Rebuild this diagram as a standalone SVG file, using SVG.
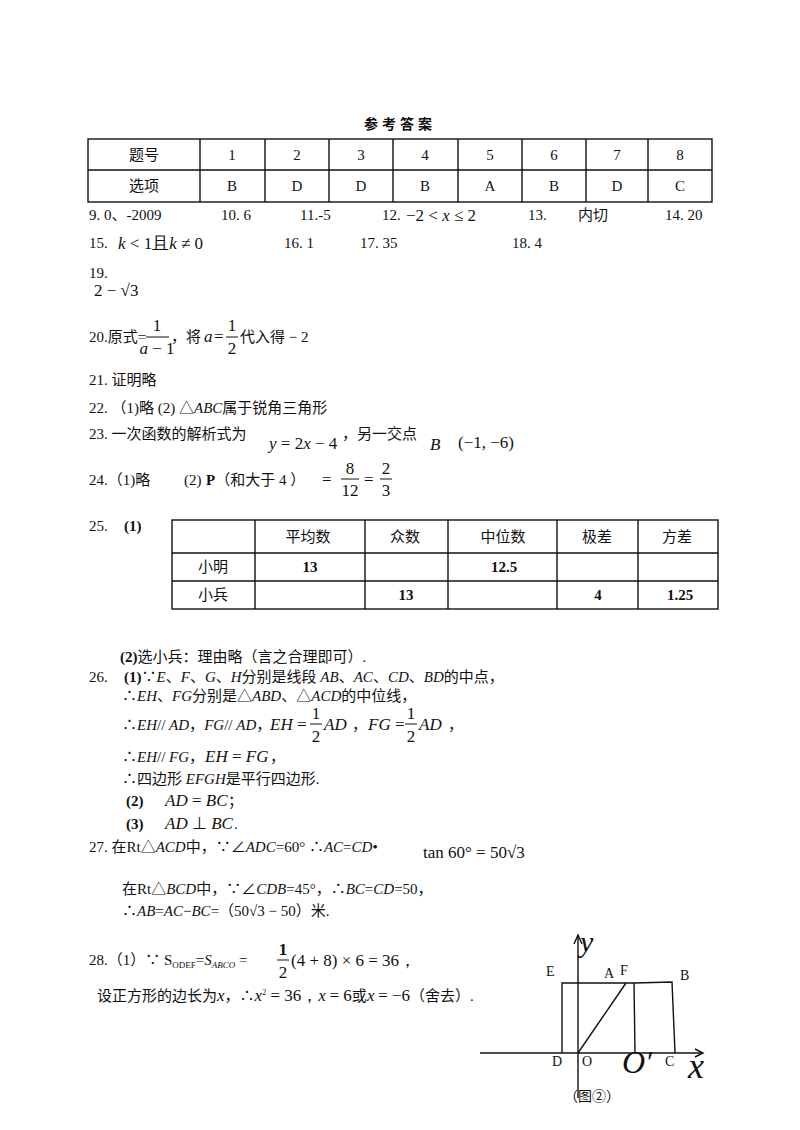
<svg xmlns="http://www.w3.org/2000/svg" width="800" height="1130" viewBox="0 0 800 1130">
<style>
text{font-family:"Liberation Serif","Noto Sans CJK SC",serif;font-size:15px;fill:#111}
.m{font-family:"Liberation Serif",serif;font-size:17px}
.i{font-style:italic}
.b{font-weight:bold}
.c{text-anchor:middle}
line,rect,polyline{stroke:#111;stroke-width:1.4;fill:none}
</style>
<rect width="800" height="1130" fill="#fff" style="stroke:none"/>
<text x="400" y="129" class="c b" style="font-size:14px;letter-spacing:4px">参考答案</text>
<g id="table1">
<rect x="88" y="139" width="624" height="63"/>
<line x1="88" y1="170" x2="712" y2="170"/>
<line x1="200" y1="139" x2="200" y2="202"/><line x1="265" y1="139" x2="265" y2="202"/><line x1="329" y1="139" x2="329" y2="202"/><line x1="393" y1="139" x2="393" y2="202"/><line x1="458" y1="139" x2="458" y2="202"/><line x1="522" y1="139" x2="522" y2="202"/><line x1="586" y1="139" x2="586" y2="202"/><line x1="648" y1="139" x2="648" y2="202"/>
<text x="144" y="160" class="c">题号</text><text x="232" y="160" class="c">1</text><text x="297" y="160" class="c">2</text><text x="361" y="160" class="c">3</text><text x="425" y="160" class="c">4</text><text x="490" y="160" class="c">5</text><text x="554" y="160" class="c">6</text><text x="617" y="160" class="c">7</text><text x="680" y="160" class="c">8</text>
<text x="144" y="191" class="c">选项</text><text x="232" y="191" class="c">B</text><text x="297" y="191" class="c">D</text><text x="361" y="191" class="c">D</text><text x="425" y="191" class="c">B</text><text x="490" y="191" class="c">A</text><text x="554" y="191" class="c">B</text><text x="617" y="191" class="c">D</text><text x="680" y="191" class="c">C</text>
</g>
<text x="89" y="220">9. 0、-2009</text><text x="221" y="220">10. 6</text><text x="300" y="220">11.-5</text><text x="382" y="220">12.</text><text x="406" y="221" class="m">−2 &lt; <tspan class="i">x</tspan> ≤ 2</text><text x="528" y="220">13.</text><text x="578" y="220">内切</text><text x="665" y="220">14. 20</text>
<text x="89" y="248">15.</text><text x="118" y="249" class="m"><tspan class="i">k</tspan> &lt; 1且<tspan class="i">k</tspan> ≠ 0</text><text x="284" y="248">16. 1</text><text x="360" y="248">17. 35</text><text x="512" y="248">18. 4</text>
<text x="89" y="278">19.</text><text x="94" y="296" class="m">2 − √3</text>
<text x="89" y="342">20.原式=</text><text x="157" y="331" class="m c">1</text><line x1="146" y1="337" x2="169" y2="337" style="stroke-width:1"/><text x="157" y="354" class="m c"><tspan class="i">a</tspan> − 1</text><text x="171" y="342">，将</text><text x="204" y="342" class="m i">a</text><text x="214" y="342" class="m">=</text><text x="232" y="331" class="m c">1</text><line x1="226" y1="337" x2="238" y2="337" style="stroke-width:1"/><text x="232" y="354" class="m c">2</text><text x="240" y="342">代入得 − 2</text>
<text x="89" y="385">21. 证明略</text>
<text x="89" y="413">22. （1)略 (2) △<tspan class="i">ABC</tspan>属于锐角三角形</text>
<text x="89" y="439">23. 一次函数的解析式为</text><text x="269" y="449" class="m"><tspan class="i">y</tspan> = 2<tspan class="i">x</tspan> − 4</text><text x="342" y="439">，另一交点</text><text x="430" y="450" class="m i">B</text><text x="458" y="448" class="m">(−1, −6)</text>
<text x="89" y="485">24.（1)略</text><text x="184" y="485">(2)</text><text x="206" y="485"><tspan class="b">P</tspan>（和大于 4 ）</text><text x="322" y="485" class="m">=</text><text x="350" y="474" class="m c">8</text><line x1="341" y1="479" x2="359" y2="479" style="stroke-width:1"/><text x="350" y="496" class="m c">12</text><text x="364" y="485" class="m">=</text><text x="386" y="474" class="m c">2</text><line x1="380" y1="479" x2="392" y2="479" style="stroke-width:1"/><text x="386" y="496" class="m c">3</text>
<text x="89" y="531">25.</text><text x="124" y="531" class="b">(1)</text>
<g id="table2">
<rect x="172" y="520" width="546" height="89"/>
<line x1="172" y1="553" x2="718" y2="553"/><line x1="172" y1="581" x2="718" y2="581"/>
<line x1="255" y1="520" x2="255" y2="609"/><line x1="365" y1="520" x2="365" y2="609"/><line x1="448" y1="520" x2="448" y2="609"/><line x1="557" y1="520" x2="557" y2="609"/><line x1="638" y1="520" x2="638" y2="609"/>
<text x="308" y="542" class="c">平均数</text><text x="405" y="542" class="c">众数</text><text x="503" y="542" class="c">中位数</text><text x="597" y="542" class="c">极差</text><text x="677" y="542" class="c">方差</text>
<text x="213" y="572" class="c">小明</text><text x="310" y="572" class="c b">13</text><text x="504" y="572" class="c b">12.5</text>
<text x="213" y="600" class="c">小兵</text><text x="406" y="600" class="c b">13</text><text x="598" y="600" class="c b">4</text><text x="680" y="600" class="c b">1.25</text>
</g>
<text x="120" y="662"><tspan class="b">(2)</tspan>选小兵：理由略（言之合理即可）.</text>
<text x="89" y="682">26.</text><text x="124" y="682"><tspan class="b">(1)</tspan>∵<tspan class="i">E</tspan>、<tspan class="i">F</tspan>、<tspan class="i">G</tspan>、<tspan class="i">H</tspan>分别是线段 <tspan class="i">AB</tspan>、<tspan class="i">AC</tspan>、<tspan class="i">CD</tspan>、<tspan class="i">BD</tspan>的中点，</text>
<text x="122" y="701">∴<tspan class="i">EH</tspan>、<tspan class="i">FG</tspan>分别是△<tspan class="i">ABD</tspan>、△<tspan class="i">ACD</tspan>的中位线，</text>
<text x="122" y="730">∴<tspan class="i">EH</tspan>// <tspan class="i">AD</tspan>，<tspan class="i">FG</tspan>// <tspan class="i">AD</tspan>，</text><text x="270" y="730" class="m"><tspan class="i">EH</tspan> =</text><text x="316" y="719" class="m c">1</text><line x1="310" y1="724" x2="322" y2="724" style="stroke-width:1"/><text x="316" y="742" class="m c">2</text><text x="324" y="730" class="m i">AD</text><text x="352" y="730">，</text><text x="368" y="730" class="m"><tspan class="i">FG</tspan> =</text><text x="411" y="719" class="m c">1</text><line x1="405" y1="724" x2="417" y2="724" style="stroke-width:1"/><text x="411" y="742" class="m c">2</text><text x="419" y="730" class="m i">AD</text><text x="448" y="730">，</text>
<text x="122" y="762">∴<tspan class="i">EH</tspan>// <tspan class="i">FG</tspan>，</text><text x="205" y="762" class="m"><tspan class="i">EH</tspan> = <tspan class="i">FG</tspan></text><text x="270" y="762">，</text>
<text x="122" y="784">∴四边形 <tspan class="i">EFGH</tspan>是平行四边形.</text>
<text x="126" y="806" class="b">(2)</text><text x="165" y="806" class="m i">AD <tspan style="font-style:normal">=</tspan> BC</text><text x="228" y="806">；</text>
<text x="126" y="829" class="b">(3)</text><text x="165" y="829" class="m i">AD <tspan style="font-style:normal">⊥</tspan> BC</text><text x="234" y="829">.</text>
<text x="89" y="852">27. 在Rt△<tspan class="i">ACD</tspan>中，∵∠<tspan class="i">ADC</tspan>=60° ∴<tspan class="i">AC</tspan>=<tspan class="i">CD</tspan>•</text>
<text x="423" y="858" class="m">tan 60° = 50√3</text>
<text x="122" y="894">在Rt△<tspan class="i">BCD</tspan>中，∵∠<tspan class="i">CDB</tspan>=45°，∴<tspan class="i">BC</tspan>=<tspan class="i">CD</tspan>=50，</text>
<text x="122" y="916">∴<tspan class="i">AB</tspan>=<tspan class="i">AC</tspan>−<tspan class="i">BC</tspan>=（50√3 − 50）米.</text>
<text x="89" y="965">28.（1）∵ S<tspan style="font-size:9px" dy="3">ODEF</tspan><tspan dy="-3">=</tspan><tspan class="i">S</tspan><tspan class="i" style="font-size:9px" dy="3">ABCO</tspan><tspan dy="-3"> =</tspan></text><text x="283" y="955" class="m c b">1</text><line x1="277" y1="960" x2="289" y2="960" style="stroke-width:1"/><text x="283" y="978" class="m c">2</text><text x="291" y="966" class="m">(4 + 8) × 6 = 36，</text>
<text x="97" y="1001">设正方形的边长为<tspan class="m i">x</tspan>，∴<tspan class="m i">x</tspan><tspan style="font-size:8px" dy="-6">2</tspan><tspan dy="6" class="m"> = 36，</tspan><tspan class="m i">x</tspan> <tspan class="m">= 6</tspan>或<tspan class="m i">x</tspan> <tspan class="m">= −6</tspan>（舍去）.</text>
<g id="figure">
<line x1="480" y1="1053" x2="703" y2="1053"/><polyline points="695,1049 703,1053 695,1057"/>
<line x1="578" y1="1098" x2="578" y2="935"/><polyline points="574,944 578,935 582,944"/>
<polyline points="562,1053 562,983 634,983 672,982 675,1053"/>
<line x1="634" y1="983" x2="635" y2="1053"/>
<line x1="578" y1="1053" x2="626" y2="983"/>
<text x="546" y="976" style="font-size:14px">E</text><text x="604" y="978" style="font-size:14px">A</text><text x="620" y="975" style="font-size:14px">F</text><text x="680" y="980" style="font-size:14px">B</text>
<text x="552" y="1066" style="font-size:14px">D</text><text x="582" y="1066" style="font-size:14px">O</text><text x="622" y="1073" class="i" style="font-size:32px">O′</text><text x="665" y="1066" style="font-size:14px">C</text>
<text x="688" y="1078" class="i" style="font-size:36px">x</text><text x="580" y="952" class="i" style="font-size:30px">y</text>
<text x="564" y="1101" style="font-size:14px">（图②）</text>
</g>
</svg>
